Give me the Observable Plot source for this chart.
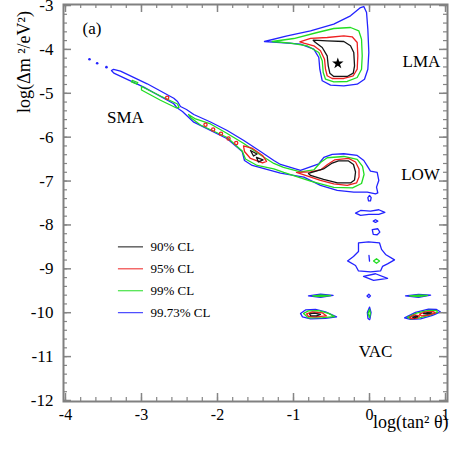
<!DOCTYPE html>
<html><head><meta charset="utf-8">
<script src="https://cdn.jsdelivr.net/npm/d3@7"></script>
<script src="https://cdn.jsdelivr.net/npm/@observablehq/plot@0.6"></script>
<style>body{margin:0;background:#fff}</style>
</head><body><div id="chart"></div>
<script>
const levels = ["90% CL", "95% CL", "99% CL", "99.73% CL"];
const levelColors = ["#151515", "#ee2020", "#22dd22", "#2323ff"];
const xTicks = [-4, -3, -2, -1, 0, 1];
const yTicks = [-12, -11, -10, -9, -8, -7, -6, -5, -4, -3];
const regionNames = ["LMA", "SMA", "LOW", "VAC"];
const regionX = [0.684, -3.211, 0.671, 0.079];
const regionY = [-4.276, -5.558, -6.85, -10.895];
const bestFit = [-0.417, -4.32];

// 99.73% CL (blue)
const blueLMA = [[-1.382,-3.820],[-1.083,-3.690],[-0.776,-3.576],[-0.470,-3.426],[-0.250,-3.235],[-0.118,-3.046],[-0.075,-3.023],[-0.039,-3.159],[-0.022,-3.540],[-0.009,-4.071],[-0.022,-4.451],[-0.066,-4.679],[-0.162,-4.793],[-0.338,-4.829],[-0.513,-4.815],[-0.622,-4.715],[-0.654,-4.451],[-0.667,-4.184],[-0.733,-3.995],[-0.908,-3.882],[-1.171,-3.843]];
const blueSmaLow = [[-3.395,-4.481],[-3.368,-4.453],[-3.276,-4.497],[-2.925,-4.784],[-2.575,-5.114],[-2.526,-5.187],[-2.487,-5.301],[-2.408,-5.369],[-2.312,-5.483],[-2.092,-5.654],[-1.872,-5.847],[-1.654,-6.075],[-1.434,-6.326],[-1.259,-6.531],[-1.171,-6.622],[-0.908,-6.759],[-0.667,-6.606],[-0.601,-6.462],[-0.491,-6.394],[-0.338,-6.378],[-0.162,-6.417],[-0.075,-6.531],[-0.026,-6.667],[0.013,-6.774],[0.101,-6.804],[0.122,-6.986],[0.092,-7.139],[0.109,-7.271],[0.079,-7.294],[-0.030,-7.253],[-0.207,-7.253],[-0.425,-7.214],[-0.645,-7.100],[-0.864,-6.911],[-1.171,-6.820],[-1.303,-6.759],[-1.543,-6.645],[-1.645,-6.531],[-1.675,-6.326],[-1.872,-6.036],[-2.312,-5.658],[-2.461,-5.415],[-2.500,-5.369],[-2.539,-5.317],[-2.575,-5.239],[-2.970,-4.861],[-3.364,-4.542]];
const blueDrop = [[0.0,-7.328],[0.022,-7.380],[0.013,-7.453],[-0.013,-7.453],[-0.022,-7.380]];
const blueHex = [[-0.184,-7.731],[-0.118,-7.670],[0.013,-7.686],[0.122,-7.654],[0.201,-7.715],[0.122,-7.761],[-0.009,-7.761],[-0.118,-7.784]];
const blueSmall = [[0.049,-7.913],[0.079,-7.882],[0.109,-7.913],[0.079,-7.943]];
const bluePent = [[0.036,-8.109],[0.109,-8.087],[0.136,-8.164],[0.101,-8.223],[0.049,-8.216]];
const blueStar = [[-0.145,-8.410],[-0.013,-8.387],[0.132,-8.410],[0.158,-8.558],[0.211,-8.672],[0.329,-8.797],[0.237,-8.888],[0.171,-8.945],[0.145,-9.048],[0.013,-9.071],[-0.145,-9.048],[-0.184,-8.923],[-0.289,-8.820],[-0.211,-8.718],[-0.145,-8.604]];
const blueBar = [[-0.007,-8.695],[0.0,-8.825]];
const blueBow = [[-0.079,-9.173],[0.079,-9.112],[0.237,-9.219],[0.053,-9.264]];
const blueLeftBar = [[-0.803,-9.617],[-0.645,-9.579],[-0.480,-9.606],[-0.645,-9.651]];
const blueRightBar = [[0.474,-9.617],[0.645,-9.583],[0.803,-9.601],[0.645,-9.651]];
const blueMidDot = [[-0.033,-9.617],[-0.009,-9.579],[0.013,-9.617],[-0.009,-9.656]];
const blueMidVac = [[0.001,-9.872],[0.020,-9.993],[0.007,-10.130],[0.001,-10.159],[-0.020,-10.130],[-0.029,-9.993]];
const blueLeftVac = [[-0.908,-10.016],[-0.842,-9.936],[-0.711,-9.925],[-0.579,-9.982],[-0.434,-10.096],[-0.579,-10.130],[-0.776,-10.141],[-0.882,-10.096]];
const blueRightVac = [[0.461,-10.118],[0.605,-9.993],[0.776,-9.920],[0.882,-9.925],[0.934,-9.982],[0.829,-10.061],[0.671,-10.141],[0.539,-10.152]];
const blueDotsX = [-3.684, -3.583, -3.461];
const blueDotsY = [-4.223, -4.314, -4.405];

// 99% CL (green)
const greenLMA = [[-1.280,-3.820],[-0.996,-3.752],[-0.688,-3.615],[-0.470,-3.524],[-0.250,-3.501],[-0.141,-3.576],[-0.105,-3.768],[-0.096,-4.146],[-0.105,-4.451],[-0.162,-4.640],[-0.293,-4.731],[-0.470,-4.738],[-0.579,-4.679],[-0.609,-4.526],[-0.622,-4.260],[-0.667,-4.071],[-0.820,-3.918],[-1.040,-3.859]];
const greenSmaLow = [[-2.382,-5.483],[-2.289,-5.585],[-2.092,-5.699],[-1.872,-5.916],[-1.654,-6.144],[-1.434,-6.405],[-1.259,-6.599],[-1.132,-6.690],[-0.908,-6.793],[-0.733,-6.747],[-0.645,-6.576],[-0.557,-6.469],[-0.338,-6.440],[-0.162,-6.508],[-0.092,-6.667],[-0.072,-6.850],[-0.105,-7.055],[-0.224,-7.157],[-0.470,-7.146],[-0.776,-7.002],[-1.128,-6.804],[-1.259,-6.724],[-1.478,-6.645],[-1.632,-6.497],[-1.675,-6.314],[-1.872,-6.007],[-2.224,-5.722],[-2.355,-5.551]];
const greenSmaA = [[-3.122,-4.708],[-3.049,-4.754],[-3.066,-4.788],[-3.132,-4.743]];
const greenSmaB = [[-3.0,-4.845],[-2.75,-5.062],[-2.526,-5.244],[-2.507,-5.323],[-2.539,-5.335],[-2.75,-5.159],[-3.0,-4.925]];
const greenDiamond = [[0.053,-8.820],[0.092,-8.768],[0.132,-8.820],[0.092,-8.872]];
const greenLeftBar = [[-0.750,-9.617],[-0.645,-9.601],[-0.513,-9.610],[-0.645,-9.633]];
const greenRightBar = [[0.526,-9.617],[0.645,-9.601],[0.763,-9.606],[0.645,-9.633]];
const greenMidVac = [[0.001,-9.925],[0.011,-10.016],[0.001,-10.107],[-0.020,-10.016]];
const greenLeftVac = [[-0.868,-10.016],[-0.803,-9.959],[-0.671,-9.954],[-0.539,-10.016],[-0.461,-10.089],[-0.618,-10.112],[-0.803,-10.118]];
const greenRightVac = [[0.5,-10.107],[0.618,-10.011],[0.776,-9.948],[0.882,-9.954],[0.895,-9.989],[0.803,-10.050],[0.645,-10.125],[0.539,-10.137]];

// 95% CL (red)
const redLMA = [[-0.917,-3.827],[-0.776,-3.750],[-0.557,-3.729],[-0.338,-3.690],[-0.228,-3.713],[-0.162,-3.843],[-0.154,-4.146],[-0.162,-4.451],[-0.214,-4.601],[-0.338,-4.663],[-0.491,-4.663],[-0.557,-4.601],[-0.579,-4.451],[-0.592,-4.223],[-0.645,-4.032],[-0.733,-3.918],[-0.864,-3.859]];
const redSmaLoop = [[-1.658,-6.200],[-1.539,-6.257],[-1.408,-6.417],[-1.355,-6.554],[-1.408,-6.588],[-1.566,-6.485],[-1.645,-6.326]];
const redLow = [[-0.961,-6.804],[-0.776,-6.793],[-0.645,-6.747],[-0.553,-6.622],[-0.461,-6.519],[-0.276,-6.485],[-0.184,-6.565],[-0.138,-6.724],[-0.138,-6.907],[-0.171,-7.043],[-0.293,-7.100],[-0.470,-7.066],[-0.645,-6.986],[-0.842,-6.872]];
const redLeftVac = [[-0.829,-10.027],[-0.750,-9.982],[-0.618,-10.005],[-0.566,-10.073],[-0.711,-10.096],[-0.803,-10.084]];
const redRightVacA = [[0.526,-10.107],[0.592,-10.050],[0.658,-10.073],[0.618,-10.130],[0.553,-10.134]];
const redRightVacB = [[0.658,-10.034],[0.737,-9.982],[0.842,-9.977],[0.868,-10.005],[0.776,-10.057],[0.684,-10.073]];
const redDotsX = [-2.662, -2.158, -2.057, -1.954, -1.855, -1.754];
const redDotsY = [-5.103, -5.718, -5.825, -5.923, -6.030, -6.132];

// 90% CL (black)
const blackLMA = [[-0.741,-3.790],[-0.557,-3.804],[-0.338,-3.820],[-0.250,-3.918],[-0.207,-4.071],[-0.197,-4.374],[-0.214,-4.542],[-0.293,-4.617],[-0.470,-4.617],[-0.522,-4.542],[-0.543,-4.374],[-0.557,-4.146],[-0.622,-3.957],[-0.711,-3.843]];
const blackSmaA = [[-1.566,-6.303],[-1.480,-6.383],[-1.526,-6.428]];
const blackSmaB = [[-1.487,-6.462],[-1.401,-6.519],[-1.461,-6.565]];
const blackLow = [[-0.803,-6.827],[-0.605,-6.724],[-0.500,-6.599],[-0.408,-6.542],[-0.276,-6.542],[-0.211,-6.622],[-0.184,-6.793],[-0.197,-6.975],[-0.250,-7.043],[-0.421,-7.043],[-0.605,-6.964],[-0.776,-6.872]];
const blackLeftVac = [[-0.789,-10.027],[-0.724,-10.011],[-0.645,-10.039],[-0.697,-10.073],[-0.776,-10.066]];
const blackRightVacA = [[0.566,-10.103],[0.605,-10.075],[0.632,-10.091],[0.592,-10.116]];
const blackRightVacB = [[0.711,-10.023],[0.763,-10.000],[0.816,-10.005],[0.763,-10.034]];

const pieces = [
  ["99.73% CL", [blueLMA, blueSmaLow, blueDrop, blueHex, blueSmall, bluePent, blueStar, blueBar, blueBow, blueLeftBar, blueRightBar, blueMidDot, blueMidVac, blueLeftVac, blueRightVac]],
  ["99% CL", [greenLMA, greenSmaLow, greenSmaA, greenSmaB, greenDiamond, greenLeftBar, greenRightBar, greenMidVac, greenLeftVac, greenRightVac]],
  ["95% CL", [redLMA, redSmaLoop, redLow, redLeftVac, redRightVacA, redRightVacB]],
  ["90% CL", [blackLMA, blackSmaA, blackSmaB, blackLow, blackLeftVac, blackRightVacA, blackRightVacB]]
];
const rows = [];
let pid = 0;
for (const [level, polys] of pieces) {
  for (const poly of polys) {
    pid++;
    for (const [x, y] of poly) rows.push({x, y, level, id: pid});
  }
}
const blueDots = blueDotsX.map((x, i) => ({x, y: blueDotsY[i]}));
const redDots = redDotsX.map((x, i) => ({x, y: redDotsY[i]}));
const regions = regionNames.map((name, i) => ({name, x: regionX[i], y: regionY[i]}));
const legendRows = levels.map((label, i) => ({label, y: -8.5 - 0.5 * i, color: levelColors[i]}));

const xMinor = d3.range(-4, 1.001, 0.2).map(v => +v.toFixed(2));
const yMinor = d3.range(-12, -2.999, 0.2).map(v => +v.toFixed(2));
const FH = 397, FW = 384;
const tickColor = "#858585";
const serif = "'Liberation Serif', 'Times New Roman', serif";

const chart = Plot.plot({
  width: 450, height: 453,
  marginLeft: 63, marginRight: 3, marginTop: 4, marginBottom: 52,
  x: {domain: [-4.026, 1.026]},
  y: {domain: [-12.023, -2.977]},
  color: {domain: levels, range: levelColors},
  style: {fontFamily: serif, fontSize: "17px", background: "#fff", color: "#000", overflow: "visible"},
  marks: [
    Plot.line(rows, {x: "x", y: "y", z: "id", stroke: "level", curve: "linear-closed", strokeWidth: 1.3}),
    Plot.dot(blueDots, {x: "x", y: "y", r: 1.3, fill: levelColors[3]}),
    Plot.dot(redDots, {x: "x", y: "y", r: 1.6, stroke: levelColors[1], strokeWidth: 1.3}),
    Plot.dot([bestFit], {x: d => d[0], y: d => d[1], symbol: "star", r: 3.6, fill: "#000"}),
    // inward ticks on all four sides
    Plot.tickX(xMinor, {x: d => d, insetTop: FH - 4, stroke: tickColor, strokeWidth: 1.2}),
    Plot.tickX(xMinor, {x: d => d, insetBottom: FH - 4, stroke: tickColor, strokeWidth: 1.2}),
    Plot.tickX(xTicks, {x: d => d, insetTop: FH - 8, stroke: tickColor, strokeWidth: 1.5}),
    Plot.tickX(xTicks, {x: d => d, insetBottom: FH - 8, stroke: tickColor, strokeWidth: 1.5}),
    Plot.tickY(yMinor, {y: d => d, insetRight: FW - 4, stroke: tickColor, strokeWidth: 1.2}),
    Plot.tickY(yMinor, {y: d => d, insetLeft: FW - 4, stroke: tickColor, strokeWidth: 1.2}),
    Plot.tickY(yTicks, {y: d => d, insetRight: FW - 8, stroke: tickColor, strokeWidth: 1.5}),
    Plot.tickY(yTicks, {y: d => d, insetLeft: FW - 8, stroke: tickColor, strokeWidth: 1.5}),
    Plot.frame({stroke: "#808080", strokeWidth: 2}),
    Plot.axisX(xTicks, {tickSize: 0, tickPadding: 7, tickFormat: d => String(d), fontSize: 16, label: null}),
    Plot.axisY(yTicks, {tickSize: 0, tickPadding: 10, tickFormat: d => String(d), fontSize: 17, label: null}),
    Plot.text(regions, {x: "x", y: "y", text: "name", fontSize: 17, fill: "#000"}),
    Plot.text(["(a)"], {frameAnchor: "top-left", dx: 19, dy: 24, textAnchor: "start", lineAnchor: "middle", fontSize: 17}),
    Plot.text(["log(tan² θ)"], {frameAnchor: "bottom-right", dx: 1, dy: 20.5, textAnchor: "end", lineAnchor: "middle", fontSize: 18}),
    Plot.link(legendRows, {x1: -3.31, x2: -2.98, y1: "y", y2: "y", stroke: "color", strokeWidth: 1}),
    Plot.text(legendRows, {x: -2.882, y: "y", text: "label", textAnchor: "start", fontSize: 13})
  ]
});
// rotated y-axis title
d3.select(chart).append("text")
  .attr("transform", "translate(24,62) rotate(-90)")
  .attr("text-anchor", "middle")
  .attr("dy", "0.32em")
  .attr("font-family", serif)
  .attr("font-size", 18)
  .attr("fill", "#000")
  .text("log(Δm ²/eV²)");
document.getElementById("chart").append(chart);
</script>
</body></html>
